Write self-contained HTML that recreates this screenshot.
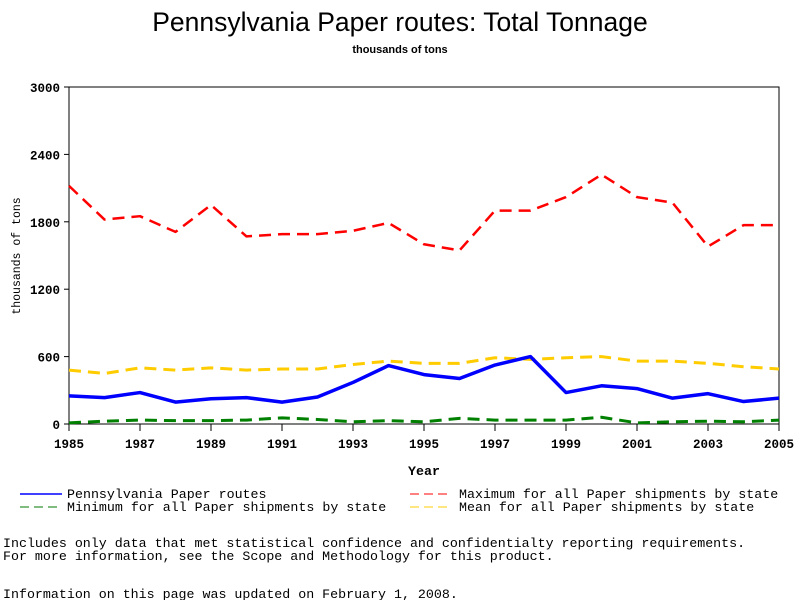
<!DOCTYPE html>
<html><head><meta charset="utf-8"><style>
body{margin:0;background:#fff;width:800px;height:600px;overflow:hidden;font-family:"Liberation Sans",sans-serif}
svg text{fill:#000}
.mono{font-family:"Liberation Mono",monospace;font-size:13.3px}
.tick{font-family:"Liberation Mono",monospace;font-size:12.5px;font-weight:bold}
</style></head><body>
<svg id="chart" width="800" height="600">
<text x="400" y="31" text-anchor="middle" font-size="26.5">Pennsylvania Paper routes: Total Tonnage</text>
<text x="400" y="53" text-anchor="middle" font-size="11" font-weight="bold">thousands of tons</text>
<rect x="69" y="87" width="710" height="337" fill="none" stroke="#000" stroke-width="1"/>
<g id="yt"></g>
<g id="xt"></g>
<text transform="translate(20,256) rotate(-90)" text-anchor="middle" font-family="Liberation Mono, monospace" font-size="11.5">thousands of tons</text>
<text x="424" y="475" text-anchor="middle" class="mono" font-weight="bold">Year</text>
<g id="series"></g>
<g>
<line x1="20" y1="494" x2="62" y2="494" stroke="#0000ff" stroke-width="1.5"/>
<text x="67" y="498" class="mono">Pennsylvania Paper routes</text>
<line x1="20" y1="507" x2="62" y2="507" stroke="#007700" stroke-width="1" stroke-dasharray="9,5"/>
<text x="67" y="511" class="mono">Minimum for all Paper shipments by state</text>
<line x1="410" y1="494" x2="452" y2="494" stroke="#ff0000" stroke-width="1" stroke-dasharray="9,5"/>
<text x="459" y="498" class="mono">Maximum for all Paper shipments by state</text>
<line x1="410" y1="507" x2="452" y2="507" stroke="#ffcc00" stroke-width="1" stroke-dasharray="9,5"/>
<text x="459" y="511" class="mono">Mean for all Paper shipments by state</text>
</g>
<text x="3" y="547" class="mono">Includes only data that met statistical confidence and confidentialty reporting requirements.</text>
<text x="3" y="560" class="mono">For more information, see the Scope and Methodology for this product.</text>
<text x="3" y="598" class="mono">Information on this page was updated on February 1, 2008.</text>
</svg>
<script>
const years=[1985,1986,1987,1988,1989,1990,1991,1992,1993,1994,1995,1996,1997,1998,1999,2000,2001,2002,2003,2004,2005];
const pennsylvania=[250,235,280,195,225,235,195,240,370,520,440,405,525,600,280,340,315,230,270,200,230];
const maximum=[2120,1820,1850,1710,1950,1670,1690,1690,1720,1790,1600,1545,1900,1900,2020,2220,2020,1970,1580,1770,1770];
const mean=[480,450,500,480,500,480,490,490,530,560,540,540,590,575,590,600,560,560,540,510,490];
const minimum=[10,25,35,30,30,35,55,40,20,30,20,50,35,35,35,60,10,20,25,20,35];
const yTicks=[0,600,1200,1800,2400,3000];
const xTicks=[1985,1987,1989,1991,1993,1995,1997,1999,2001,2003,2005];
const NS="http://www.w3.org/2000/svg";
const X=v=>69+(v-1985)*710/20;
const Y=v=>424-v*337/3000;
function mk(t,a,p){const e=document.createElementNS(NS,t);for(const k in a)e.setAttribute(k,a[k]);p.appendChild(e);return e;}
const yt=document.getElementById('yt'),xt=document.getElementById('xt'),sg=document.getElementById('series');
yTicks.forEach(v=>{
 const l=mk('line',{x1:64,x2:69,y1:Y(v),y2:Y(v),stroke:'#000'},yt);
 
 
 const t=mk('text',{x:60,y:Y(v)+5,'text-anchor':'end',class:'tick'},yt);
 t.textContent=v;
 
 
});
xTicks.forEach(v=>{
 const l=mk('line',{x1:X(v),x2:X(v),y1:424,y2:431,stroke:'#000'},xt);
 
 
 const t=mk('text',{x:X(v),y:448,'text-anchor':'middle',class:'tick'},xt);
 t.textContent=v;
 
 
});
function line(data,color,w,dash,name){
 const p=mk('polyline',{points:data.map((v,i)=>X(years[i])+','+Y(v)).join(' '),fill:'none',stroke:color,'stroke-width':w,'stroke-linejoin':'round'},sg);
 if(dash)p.setAttribute('stroke-dasharray',dash);
 
 
}
line(maximum,'#ff0000',2.5,'12,7','line-maximum');
line(mean,'#ffcc00',3,'12,7','line-mean');
line(minimum,'#008000',3,'12,7','line-minimum');
line(pennsylvania,'#0000ff',3.5,null,'line-pennsylvania');
</script>
</body></html>
